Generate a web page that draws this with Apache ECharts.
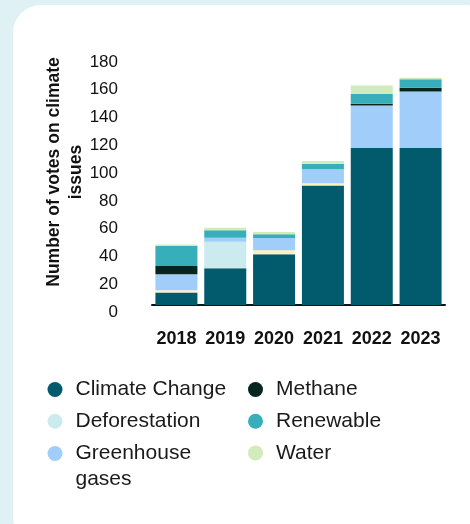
<!DOCTYPE html>
<html>
<head>
<meta charset="utf-8">
<script src="https://cdn.jsdelivr.net/npm/echarts@6/dist/echarts.min.js"></script>
<style>
  html, body { margin: 0; padding: 0; width: 470px; height: 524px; background: #E0F1F5; overflow: hidden; }
  #card { position: absolute; left: 13px; top: 5px; width: 480px; height: 540px; background: #fff; border-radius: 28px; }
  #chart { position: absolute; left: 0; top: 0; width: 470px; height: 524px; }
</style>
</head>
<body>
<div id="card"></div>
<div id="chart"></div>
<script>
const years = ['2018', '2019', '2020', '2021', '2022', '2023'];
const climateChange = [9, 26.5, 36.5, 86, 113, 113];
const other = [1.7, 0, 2.9, 1.7, 0, 0];
const deforestation = [0, 19, 0, 0, 0, 0];
const greenhouse = [11.5, 2.9, 8.9, 10, 30.7, 40.8];
const methane = [5.8, 0, 0, 0, 1.2, 2.7];
const renewable = [14.4, 5.5, 2.6, 4, 7.2, 6];
const water = [1.2, 1.7, 1.7, 1.9, 6, 1.2];
const yMax = 180, yStep = 20;
const yName = 'Number of votes on climate\nissues';

const FONT = '"Liberation Sans", Arial, sans-serif';
const seriesDefs = [
  ['Climate Change', climateChange, '#025B6C'],
  ['Other', other, '#FDF1C3'],
  ['Deforestation', deforestation, '#CBEBEE'],
  ['Greenhouse gases', greenhouse, '#A0CDFA'],
  ['Methane', methane, '#04261F'],
  ['Renewable', renewable, '#37AFBA'],
  ['Water', water, '#D2EBBD']
];

const legendCommon = {
  orient: 'vertical', icon: 'circle', itemWidth: 15, itemHeight: 15, itemGap: 7.7,
  selectedMode: false, padding: 0, height: 200, width: 200,
  textStyle: { fontFamily: FONT, fontSize: 21, color: '#1a1a1a', lineHeight: 24, padding: [0, 0, 0, 8] }
};

const chart = echarts.init(document.getElementById('chart'), null, { renderer: 'canvas' });
chart.setOption({
  animation: false,
  grid: { left: 152, right: 25, top: 55, bottom: 219, containLabel: false },
  legend: [
    Object.assign({}, legendCommon, { left: 47.5, top: 377.5, data: ['Climate Change', 'Deforestation'] }),
    Object.assign({}, legendCommon, { left: 47.5, top: 414.5, data: ['Greenhouse gases'],
      textStyle: Object.assign({}, legendCommon.textStyle, { lineHeight: 26 }),
      formatter: name => ' \n' + name.replace(' ', '\n') }),
    Object.assign({}, legendCommon, { left: 248, top: 377.5, data: ['Methane', 'Renewable', 'Water'] })
  ],
  xAxis: {
    type: 'category', data: years,
    axisLine: { lineStyle: { color: '#111', width: 2 } },
    axisTick: { show: false },
    axisLabel: { interval: 0, fontFamily: FONT, fontSize: 18, fontWeight: 'bold', color: '#111', margin: 25 }
  },
  yAxis: {
    type: 'value', min: 0, max: yMax, interval: yStep,
    splitLine: { show: false }, axisLine: { show: false }, axisTick: { show: false },
    axisLabel: { fontFamily: FONT, fontSize: 17, color: '#111', margin: 34, verticalAlign: 'top', lineHeight: 14 }
  },
  graphic: [{
    type: 'text', x: 65, y: 172, rotation: Math.PI / 2,
    style: { text: yName, font: 'bold 17.5px ' + FONT, fill: '#111', align: 'center', verticalAlign: 'middle', lineHeight: 22 }
  }],
  series: seriesDefs.map(([name, data, color]) => ({
    name, type: 'bar', stack: 'total', data, barWidth: 42,
    itemStyle: { color }
  }))
});
</script>
</body>
</html>
